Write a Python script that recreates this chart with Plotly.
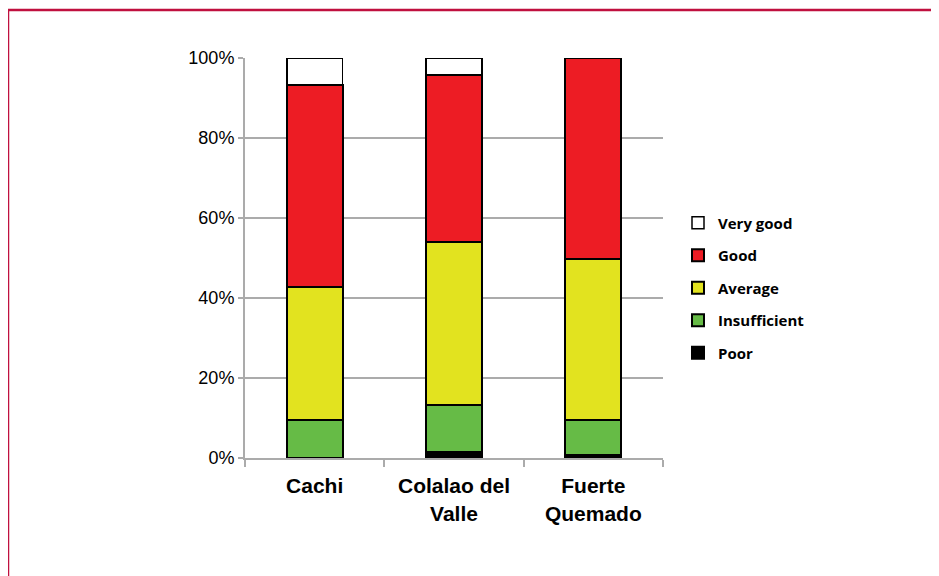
import plotly.graph_objects as go

categories = ["Cachi", "Colalao del<br>Valle", "Fuerte<br>Quemado"]
poor = [0.0, 1.5, 0.75]
insufficient = [9.5, 11.75, 8.75]
average = [33.25, 40.75, 40.25]
good = [50.5, 41.75, 50.25]
very_good = [6.75, 4.25, 0.0]

series = [
    ("Poor", poor, "#000000"),
    ("Insufficient", insufficient, "#66BB46"),
    ("Average", average, "#E2E31F"),
    ("Good", good, "#ED1C24"),
    ("Very good", very_good, "#FFFFFF"),
]

fig = go.Figure()
n = len(series)
for i, (name, vals, color) in enumerate(series):
    fig.add_trace(go.Bar(
        x=categories, y=vals, name=name, legendgroup=name, legendrank=n - i,
        marker=dict(color=color, line=dict(color="#000000", width=2 if name != "Very good" else 1.5)),
    ))

OFF = 8  # page body margin
W, H = 939 - OFF, 576 - OFF
L, R, T, B = 245 - OFF, 663 - OFF, 58 - OFF, 458 - OFF
pw, ph = R - L, B - T

def px(x):
    return (x - OFF - L) / pw

def py(y):
    return (B - (y - OFF)) / ph

fig.update_layout(
    width=W, height=H,
    margin=dict(l=L, r=W - R, t=T, b=H - B, autoexpand=False),
    barmode="stack", bargap=0.6,
    plot_bgcolor="white", paper_bgcolor="white",
    font=dict(family="Arial, Liberation Sans", color="#000000"),
    showlegend=True,
    legend=dict(
        x=px(678), y=py(206.5), xanchor="left", yanchor="top",
        traceorder="grouped", tracegroupgap=10,
        font=dict(family="Open Sans, DejaVu Sans", size=15, color="#000000", weight="bold"),
        itemwidth=30,
    ),
    xaxis=dict(
        showline=True, linecolor="#ababab", linewidth=2,
        ticks="outside", ticklen=7, tickcolor="#ababab", tickwidth=2,
        tickson="boundaries", ticklabelstandoff=8,
        tickfont=dict(size=21, family="Arial, Liberation Sans", weight="bold"),
        showgrid=False,
    ),
    yaxis=dict(
        range=[0, 100], tickvals=[0, 20, 40, 60, 80, 100],
        ticktext=["0%", "20%", "40%", "60%", "80%", "100%"],
        showline=True, linecolor="#ababab", linewidth=2,
        ticks="outside", ticklen=5, tickcolor="#ababab", tickwidth=2,
        showgrid=True, gridcolor="#ababab", gridwidth=2,
        tickfont=dict(size=18), zeroline=False,
    ),
    shapes=[
        dict(type="line", xref="paper", yref="paper",
             x0=px(8), x1=px(950), y0=py(10), y1=py(10),
             line=dict(color="#C0103F", width=2.5)),
        dict(type="line", xref="paper", yref="paper",
             x0=px(8), x1=px(8), y0=py(10), y1=py(590),
             line=dict(color="#C0103F", width=2.5)),
    ],
)

fig.write_html("out.html")
